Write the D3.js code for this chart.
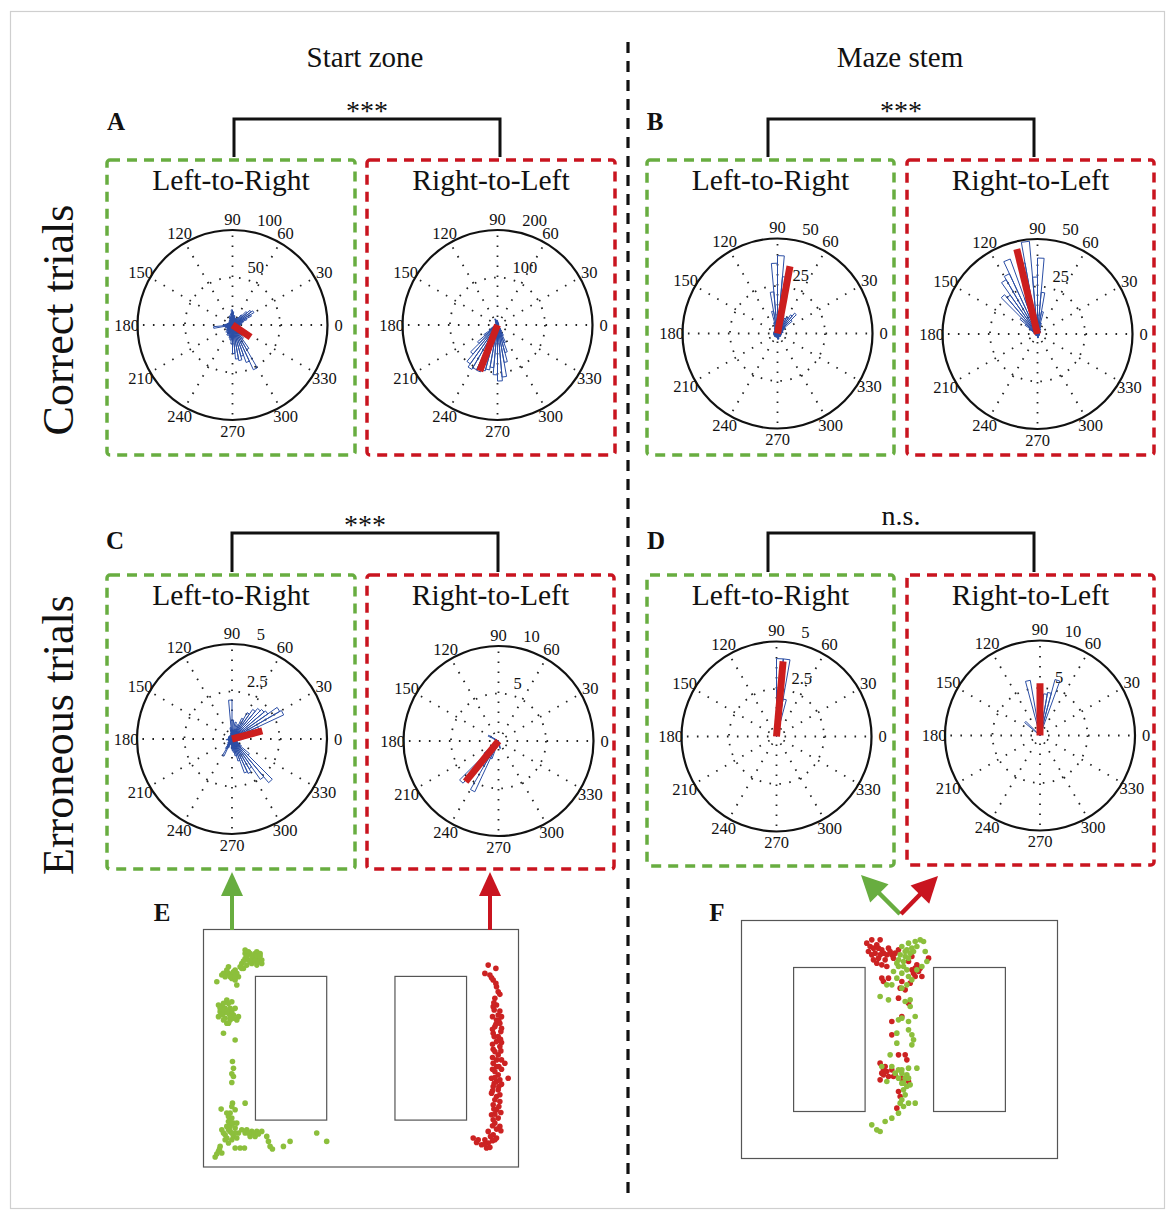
<!DOCTYPE html>
<html>
<head>
<meta charset="utf-8">
<script src="https://cdn.jsdelivr.net/npm/d3@7"></script>
<style>
  body { margin: 0; background: #fff; }
  text { font-family: "Liberation Serif", "Times New Roman", serif; fill: #111; }
</style>
</head>
<body>
<div id="fig"></div>
<script>
// ---------- data ----------
const angleTicks = [0, 30, 60, 90, 120, 150, 180, 210, 240, 270, 300, 330];
const binWidth = 5; // degrees per rose bin, bin i covers [5i, 5i+5)

// A: start zone, correct trials
const ticksA_LR = [50, 100];
const countsA_LR = [
  8, 10, 8, 12, 16, 22, 26, 24, 20, 14, 10, 8,
  8, 6, 8, 10, 10, 14, 16, 12, 8, 10, 8, 6,
  6, 5, 4, 4, 5, 4, 4, 5, 5, 6, 6, 8,
  10, 20, 8, 6, 8, 6, 6, 8, 8, 10, 8, 10,
  12, 10, 12, 14, 16, 20, 30, 36, 38, 34, 42, 52,
  30, 18, 14, 12, 10, 8, 8, 6, 6, 8, 6, 8];
const meanA_LR = [326, 23];

const ticksA_RL = [100, 200];
const countsA_RL = [
  3, 3, 2, 3, 2, 3, 2, 3, 2, 3, 2, 3,
  3, 4, 4, 5, 6, 8, 10, 8, 10, 12, 14, 10,
  8, 6, 5, 4, 4, 3, 3, 3, 3, 3, 4, 4,
  4, 5, 6, 8, 10, 14, 20, 35, 55, 80, 100, 108,
  104, 105, 100, 96, 90, 105, 118, 110, 80, 60, 40, 25,
  15, 10, 6, 5, 4, 3, 3, 2, 3, 2, 3, 3];
const meanA_RL = [249, 104];

// B: maze stem, correct trials
const ticksB_LR = [25, 50];
const countsB_LR = [
  2, 2, 3, 2, 3, 3, 4, 5, 10, 14, 12, 10,
  9, 8, 10, 14, 30, 41, 37, 22, 12, 6, 4, 3,
  3, 2, 2, 2, 2, 2, 2, 2, 2, 2, 2, 2,
  2, 2, 2, 2, 2, 2, 2, 2, 2, 2, 2, 2,
  2, 2, 2, 2, 2, 2, 3, 3, 3, 2, 2, 2,
  2, 2, 2, 2, 2, 2, 2, 2, 2, 2, 2, 2];
const meanB_LR = [79.5, 36];

const ticksB_RL = [25, 50];
const countsB_RL = [
  1, 1, 1, 1, 1, 1, 2, 2, 2, 2, 2, 3,
  3, 4, 6, 12, 22, 40, 30, 49, 38, 20, 42, 35,
  33, 25, 27, 12, 8, 5, 3, 2, 2, 2, 1, 1,
  1, 1, 1, 1, 1, 1, 1, 1, 1, 1, 1, 1,
  1, 1, 1, 1, 1, 1, 2, 2, 2, 1, 1, 1,
  1, 1, 1, 1, 1, 1, 1, 1, 1, 1, 1, 1];
const meanB_RL = [103.7, 46];

// C: start zone, erroneous trials
const ticksC_LR = [2.5, 5];
const countsC_LR = [
  0.6, 0.5, 0.8, 1.0, 1.5, 3.0, 2.9, 2.3, 2.2, 2.1, 1.9, 1.6,
  1.2, 0.8, 0.5, 0.9, 0.4, 1.0, 2.05, 0.6, 0.3, 0.2, 0.2, 0.2,
  0.2, 0.2, 0.2, 0.2, 0.2, 0.2, 0.2, 0.2, 0.2, 0.2, 0.2, 0.2,
  0.2, 0.3, 0.2, 0.2, 0.2, 0.2, 0.2, 0.2, 0.3, 0.3, 0.4, 0.6,
  1.0, 0.5, 0.3, 0.2, 0.3, 0.5, 0.6, 0.7, 0.9, 1.2, 1.9, 2.0,
  1.8, 2.6, 3.0, 1.2, 0.6, 0.4, 0.3, 0.3, 0.3, 0.3, 0.4, 0.5];
const meanC_LR = [15, 1.65];

const ticksC_RL = [5, 10];
const countsC_RL = [
  0, 0, 0, 0, 0, 0, 0, 0, 0, 0, 0, 0,
  0, 0, 0, 0, 0, 0, 0, 0, 0, 0, 0, 0,
  0, 0, 0, 0, 0, 0, 1.2, 0.5, 0, 0, 0, 0,
  0, 0, 0, 0, 0, 0, 0, 0.6, 2.0, 5.8, 4.2, 3.0,
  5.9, 2.0, 0.8, 0, 0, 0, 0, 0, 0.8, 0, 0, 0,
  0, 0, 0, 0, 0, 0, 0, 0, 0, 0, 0, 0];
const meanC_RL = [231, 5.5];

// D: maze stem, erroneous trials
const ticksD_LR = [2.5, 5];
const countsD_LR = [
  0, 0, 0, 0, 0, 0, 0, 0, 0, 0, 0, 0,
  0, 0, 0, 2.0, 4.1, 4.1, 0, 0, 0, 0, 0, 0,
  0, 0, 0, 0, 0, 0, 0, 0, 0, 0, 0, 0,
  0, 0, 0, 0, 0, 0, 0, 0, 0, 0, 0, 0,
  0, 0, 0, 0, 0, 0, 0, 0, 0, 0, 0, 0,
  0, 0, 0, 0, 0, 0, 0, 0, 0, 0, 0, 0];
const meanD_LR = [85, 3.97];

const ticksD_RL = [5, 10];
const countsD_RL = [
  0, 0, 0, 0, 0, 0, 0, 0, 0, 0, 0, 0,
  0, 0, 6.1, 4.6, 4.4, 1.5, 0.8, 1.0, 5.9, 0.5, 0, 0,
  0, 0, 0, 2.1, 0, 0, 0, 0, 0, 0, 0, 0,
  0, 0, 0, 0, 0, 0, 0, 0, 0, 0, 0, 0,
  0, 0, 0, 0, 0, 0, 0, 0, 0, 0, 0, 0,
  0, 0, 0, 0, 0, 0, 0, 0, 0, 0, 0, 0];
const meanD_RL = [90, 5.5];

const significance = ["***", "***", "***", "n.s."];

// tracked positions (maze units, arena 946 x 714)
const mazeSize = [946, 714];
const pillars = [[156, 141, 214, 432], [575, 141, 215, 432]];

const startLR = [
  [125,72],[140,72],[155,72],[170,72],[125,62],[135,67],[160,67],[125,87],[135,92],[150,87],[165,87],[175,92],
  [115,102],[130,107],[145,102],[160,107],[175,102],[110,112],[120,117],[115,117],[75,112],[70,122],[60,132],
  [55,137],[75,132],[85,137],[95,122],[100,132],[105,142],[85,147],[95,152],[40,157],[100,167],
  [130,80],[145,80],[160,80],[170,80],[140,95],[155,95],[165,97],[120,95],[90,127],[80,142],[65,142],[95,142],
  [70,212],[85,217],[45,227],[55,232],[65,237],[80,237],[95,237],[50,247],[60,252],[75,252],[90,257],
  [105,262],[45,262],[65,267],[80,272],[100,272],[70,282],[60,312],[95,332],
  [60,222],[75,222],[50,237],[60,242],[70,247],[85,247],[55,257],[80,262],[90,267],[60,272],[75,282],
  [87,397],[90,417],[85,434],[90,442],[85,460],
  [87,522],[125,522],[53,540],[80,552],[75,562],[85,567],[75,577],[90,582],[70,592],[80,592],[95,597],
  [55,602],[80,607],[105,612],[65,617],[90,622],[115,602],[130,602],[145,607],[160,607],[175,607],
  [140,622],[155,622],[65,632],[85,632],[75,642],[50,652],[45,667],[55,672],[35,684],[95,657],[110,657],
  [123,657],[190,622],[195,637],[200,652],[207,660],[240,652],[260,637],[340,612],[370,637],
  [85,532],[95,542],[70,552],[85,582],[100,582],[75,602],[95,612],[85,612],[60,612],[70,627],[100,627],
  [125,612],[150,612],[135,612],[165,615],[48,660],[40,675]];

const startRL = [
  [855,107],[845,132],[860,137],[870,152],[880,172],[885,187],[875,207],[880,227],[870,232],[873,242],
  [885,257],[880,272],[887,272],[890,282],[875,292],[895,297],[893,307],[870,312],[885,322],[873,322],
  [880,337],[890,352],[875,367],[885,377],[895,392],[870,402],[905,402],[880,412],[887,412],[875,427],
  [885,437],[865,447],[915,447],[880,457],[873,462],[870,472],[887,472],[885,482],[865,492],[880,502],
  [875,512],[890,517],[870,527],[887,532],[880,542],[865,557],[885,567],[870,572],[875,582],[890,592],
  [855,607],[870,617],[880,627],[810,627],[825,632],[845,632],[875,632],[855,642],[835,647],[850,657],
  [878,117],[865,145],[878,162],[890,195],[872,220],[890,245],[868,262],[895,262],[878,285],[868,300],
  [892,330],[868,345],[895,340],[870,360],[893,365],[868,385],[880,392],[895,420],[868,420],[890,452],
  [875,445],[895,465],[868,485],[890,497],[872,540],[893,550],[875,555],[868,590],[880,600],[893,605],
  [862,622],[845,645],[860,655],[820,640],[868,635]];

const stemRL = [
  [375,68],[390,58],[415,58],[380,93],[400,98],[420,88],[440,83],[410,113],[430,118],[450,103],[395,118],
  [420,133],[435,138],[470,88],[460,98],[500,123],[510,148],[525,133],[530,153],[540,168],[520,168],
  [560,113],[510,108],[420,173],[440,173],[425,183],[480,183],[505,188],[475,203],[490,208],[470,233],
  [500,248],[450,303],[480,288],[450,343],[470,403],[490,403],[495,418],[415,428],[425,448],[435,453],
  [415,478],[460,463],[480,473],[500,483],[470,513],[475,528],[465,563],[420,458],[450,448],
  [385,78],[395,83],[405,73],[410,83],[425,98],[435,103],[415,103],[390,103],[445,93],[455,113],[405,128],
  [520,143],[515,158],[535,143],[425,463],[440,468],[430,438],[455,468]];

const stemLR = [
  [500,68],[520,63],[535,58],[545,63],[480,78],[495,88],[510,83],[475,103],[490,108],[505,98],[470,118],
  [485,123],[465,128],[550,93],[555,123],[540,138],[525,148],[455,153],[480,158],[500,168],[465,173],
  [435,193],[450,193],[495,193],[480,203],[415,228],[440,238],[490,243],[505,238],[505,258],[520,288],
  [470,298],[480,293],[500,303],[500,328],[510,343],[465,338],[515,358],[510,373],[465,368],[445,403],
  [420,438],[450,438],[470,448],[500,443],[525,443],[480,458],[490,473],[435,483],[480,488],[505,493],
  [485,508],[495,498],[475,548],[500,548],[520,548],[470,578],[450,593],[430,603],[390,613],[405,628],
  [415,633],[485,558],
  [490,93],[500,113],[515,93],[525,78],[485,138],[470,138],[495,148],[510,178],[460,458],[480,448],
  [495,463],[470,473],[500,473],[485,488],[490,523],[480,538]];

// ---------- styles ----------
const GREEN = "#68ad40", RED = "#c9141f", BLUE = "#2b4ea5", MEANRED = "#cc1e1e";
const DOT_GREEN = "#8cbf3c", DOT_RED = "#cc2222";
const R = 95;

const svg = d3.select("#fig").append("svg")
  .attr("width", 1171)
  .attr("height", 1220);

// outer frame
svg.append("rect")
  .attr("x", 10.5).attr("y", 11.5)
  .attr("width", 1154).attr("height", 1197)
  .attr("fill", "none").attr("stroke", "#cfcfcf").attr("stroke-width", 1.2);

// column divider
svg.append("line")
  .attr("x1", 628).attr("x2", 628).attr("y1", 42).attr("y2", 1196)
  .attr("stroke", "#111").attr("stroke-width", 3.2).attr("stroke-dasharray", "11,8");

// column headers
svg.append("text").attr("x", 365).attr("y", 67).attr("text-anchor", "middle")
  .attr("font-size", 29).text("Start zone");
svg.append("text").attr("x", 900).attr("y", 67).attr("text-anchor", "middle")
  .attr("font-size", 29).text("Maze stem");

// row labels
svg.append("text").attr("transform", "translate(73,320) rotate(-90)")
  .attr("text-anchor", "middle").attr("font-size", 44).text("Correct trials");
svg.append("text").attr("transform", "translate(73,735) rotate(-90)")
  .attr("text-anchor", "middle").attr("font-size", 44).text("Erroneous trials");

// panel letters
const letters = [["A", 116, 130], ["B", 655, 130], ["C", 115, 549], ["D", 656, 549], ["E", 162, 921], ["F", 717, 921]];
svg.selectAll("text.letter").data(letters).join("text")
  .attr("class", "letter")
  .attr("x", d => d[1]).attr("y", d => d[2])
  .attr("text-anchor", "middle").attr("font-size", 25).attr("font-weight", "bold")
  .text(d => d[0]);

// significance brackets
const brackets = [
  { x1: 234, x2: 500, y: 119, yb: 157, ty: 120 },
  { x1: 768, x2: 1034, y: 119, yb: 157, ty: 120 },
  { x1: 232, x2: 498, y: 533, yb: 572, ty: 534 },
  { x1: 768, x2: 1034, y: 533, yb: 572, ty: 525 }];
brackets.forEach((b, i) => {
  svg.append("path")
    .attr("d", `M${b.x1},${b.yb}V${b.y}H${b.x2}V${b.yb}`)
    .attr("fill", "none").attr("stroke", "#111").attr("stroke-width", 3);
  svg.append("text").attr("x", (b.x1 + b.x2) / 2).attr("y", b.ty)
    .attr("text-anchor", "middle").attr("font-size", 28).text(significance[i]);
});

// ---------- rose panels ----------
const panels = [
  { box: [107, 160, 355, 455], col: GREEN, title: "Left-to-Right", cx: 232.5, cy: 325, counts: countsA_LR, mean: meanA_LR, ticks: ticksA_LR },
  { box: [367, 160, 615, 455], col: RED, title: "Right-to-Left", cx: 497.5, cy: 325, counts: countsA_RL, mean: meanA_RL, ticks: ticksA_RL },
  { box: [647, 160, 894, 455], col: GREEN, title: "Left-to-Right", cx: 777.5, cy: 333.5, counts: countsB_LR, mean: meanB_LR, ticks: ticksB_LR },
  { box: [907, 160, 1154, 455], col: RED, title: "Right-to-Left", cx: 1037.5, cy: 334, counts: countsB_RL, mean: meanB_RL, ticks: ticksB_RL },
  { box: [107, 575, 355, 869], col: GREEN, title: "Left-to-Right", cx: 232, cy: 739, counts: countsC_LR, mean: meanC_LR, ticks: ticksC_LR },
  { box: [367, 575, 614, 869], col: RED, title: "Right-to-Left", cx: 498.5, cy: 741, counts: countsC_RL, mean: meanC_RL, ticks: ticksC_RL },
  { box: [647, 575, 894, 866], col: GREEN, title: "Left-to-Right", cx: 776.5, cy: 736.5, counts: countsD_LR, mean: meanD_LR, ticks: ticksD_LR },
  { box: [907, 575, 1154, 865], col: RED, title: "Right-to-Left", cx: 1040, cy: 735.5, counts: countsD_RL, mean: meanD_RL, ticks: ticksD_RL }];

const rad = a => a * Math.PI / 180;

panels.forEach(p => {
  const [x0, y0, x1, y1] = p.box;
  svg.append("rect")
    .attr("x", x0).attr("y", y0).attr("width", x1 - x0).attr("height", y1 - y0)
    .attr("rx", 3)
    .attr("fill", "none").attr("stroke", p.col).attr("stroke-width", 3.5)
    .attr("stroke-dasharray", "10,7");

  svg.append("text").attr("x", (x0 + x1) / 2).attr("y", y0 + 30)
    .attr("text-anchor", "middle").attr("font-size", 29.5).text(p.title);

  const g = svg.append("g").attr("transform", `translate(${p.cx},${p.cy})`);
  const r = d3.scaleLinear().domain([0, p.ticks[1]]).range([0, R]);

  // dotted spokes
  g.selectAll("line.spoke").data(angleTicks).join("line")
    .attr("class", "spoke")
    .attr("x1", a => 8 * Math.cos(rad(a))).attr("y1", a => -8 * Math.sin(rad(a)))
    .attr("x2", a => R * Math.cos(rad(a))).attr("y2", a => -R * Math.sin(rad(a)))
    .attr("stroke", "#222").attr("stroke-width", 1.8).attr("stroke-dasharray", "1.6,8.4");

  // dotted inner ring
  g.append("circle").attr("r", r(p.ticks[0]))
    .attr("fill", "none").attr("stroke", "#222").attr("stroke-width", 1.8)
    .attr("stroke-dasharray", "1.6,8.4");

  // rose bins
  const radial = d3.lineRadial()
    .angle(d => rad(90 - d.a))
    .radius(d => r(d.v))
    .curve(d3.curveLinearClosed);
  const bins = p.counts.map((v, i) => ({ i, v })).filter(d => d.v > 0);
  g.selectAll("path.bin").data(bins).join("path")
    .attr("class", "bin")
    .attr("d", d => radial([
      { a: d.i * binWidth, v: 0 },
      { a: d.i * binWidth, v: d.v },
      { a: (d.i + 1) * binWidth, v: d.v }]))
    .attr("fill", "none").attr("stroke", BLUE).attr("stroke-width", 1);

  // mean vector
  const meanLine = d3.lineRadial().angle(d => rad(90 - d.a)).radius(d => r(d.v));
  g.append("path")
    .attr("d", meanLine([{ a: p.mean[0], v: 0 }, { a: p.mean[0], v: p.mean[1] }]))
    .attr("stroke", MEANRED).attr("stroke-width", 7).attr("fill", "none");

  // outer circle
  g.append("circle").attr("r", R)
    .attr("fill", "none").attr("stroke", "#111").attr("stroke-width", 2.2);

  // angle labels
  g.selectAll("text.ang").data(angleTicks).join("text")
    .attr("class", "ang")
    .attr("x", a => (R + 11) * Math.cos(rad(a)))
    .attr("y", a => -(R + 11) * Math.sin(rad(a)))
    .attr("text-anchor", "middle").attr("dominant-baseline", "central")
    .attr("font-size", 16.5).text(a => a);

  // radial labels
  g.selectAll("text.rtick").data(p.ticks).join("text")
    .attr("class", "rtick")
    .attr("x", t => r(t) * Math.cos(rad(78)) + 5)
    .attr("y", t => -r(t) * Math.sin(rad(78)) - 6)
    .attr("font-size", 16.5).text(t => t);
});

// ---------- maze panels ----------
function drawArrow(x1, y1, x2, y2, col, len, hw, w) {
  const dx = x2 - x1, dy = y2 - y1, L = Math.hypot(dx, dy);
  const ux = dx / L, uy = dy / L;
  const bx = x2 - ux * len, by = y2 - uy * len;
  svg.append("line").attr("x1", x1).attr("y1", y1).attr("x2", bx + ux * 2).attr("y2", by + uy * 2)
    .attr("stroke", col).attr("stroke-width", w);
  svg.append("path")
    .attr("d", `M${x2},${y2}L${bx - uy * hw},${by + ux * hw}L${bx + uy * hw},${by - ux * hw}Z`)
    .attr("fill", col);
}

function drawMaze(frame, groups) {
  const [fx0, fy0, fx1, fy1] = frame;
  const x = d3.scaleLinear().domain([0, mazeSize[0]]).range([fx0, fx1]);
  const y = d3.scaleLinear().domain([0, mazeSize[1]]).range([fy0, fy1]);
  const mg = svg.append("g");
  mg.append("rect").attr("x", fx0).attr("y", fy0).attr("width", fx1 - fx0).attr("height", fy1 - fy0)
    .attr("fill", "none").attr("stroke", "#555").attr("stroke-width", 1.2);
  mg.selectAll("rect.pillar").data(pillars).join("rect")
    .attr("class", "pillar")
    .attr("x", d => x(d[0])).attr("y", d => y(d[1]))
    .attr("width", d => x(d[0] + d[2]) - x(d[0])).attr("height", d => y(d[1] + d[3]) - y(d[1]))
    .attr("fill", "none").attr("stroke", "#555").attr("stroke-width", 1.2);
  groups.forEach(([pts, col]) => {
    mg.append("g").selectAll("circle").data(pts).join("circle")
      .attr("cx", d => x(d[0])).attr("cy", d => y(d[1]))
      .attr("r", 2.8).attr("fill", col);
  });
}

drawMaze([203.5, 929.5, 518.5, 1167], [[startLR, DOT_GREEN], [startRL, DOT_RED]]);
drawMaze([741.5, 920.5, 1057.5, 1158.5], [[stemRL, DOT_RED], [stemLR, DOT_GREEN]]);

drawArrow(232, 930, 232, 872, GREEN, 24, 11, 4);
drawArrow(490, 930, 490, 872, RED, 24, 11, 4);
drawArrow(900, 914, 861, 875, GREEN, 26, 13, 4.5);
drawArrow(901, 914, 938, 876, RED, 26, 13, 4.5);
</script>
</body>
</html>
